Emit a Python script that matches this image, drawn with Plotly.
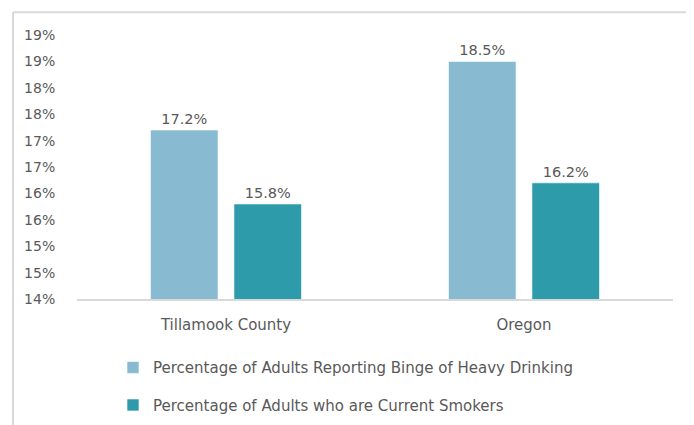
import plotly.graph_objects as go

categories = ["Tillamook County", "Oregon"]
binge_values = [17.2, 18.5]
smoker_values = [15.8, 16.2]
series_names = [
    "Percentage of Adults Reporting Binge of Heavy Drinking",
    "Percentage of Adults who are Current Smokers",
]
tick_values = [14, 14.5, 15, 15.5, 16, 16.5, 17, 17.5, 18, 18.5, 19]
tick_labels = ["14%", "15%", "15%", "16%", "16%", "17%", "17%", "18%", "18%", "19%", "19%"]

FONT = "DejaVu Sans"
TEXT = "#595959"
colors = ["#88BBD2", "#2E9BAB"]

# page body adds an 8px offset; plot area in page px: x 77..673, y 35..303
OFF = 8
L, R, T, B = 77 - OFF, 673 - OFF, 35 - OFF, 303 - OFF
W, H = 694, 425
PW, PH = R - L, B - T

fig = go.Figure()
for name, vals, col, grp in [
    (series_names[0], binge_values, colors[0], "a"),
    (series_names[1], smoker_values, colors[1], "b"),
]:
    fig.add_trace(go.Bar(
        x=categories, y=vals, name=name,
        marker=dict(color=col, line=dict(color="rgba(255,255,255,0.6)", width=1)),
        text=[f"{v:.1f}%" for v in vals], textposition="outside",
        textfont=dict(family=FONT, size=14.5, color=TEXT),
        cliponaxis=False, legendgroup=grp,
    ))

fx = lambda px: (px - OFF - L) / PW
fy = lambda py: (B - (py - OFF)) / PH

fig.update_layout(
    width=W, height=H,
    margin=dict(l=L, r=W - R, t=T, b=H - B),
    paper_bgcolor="white", plot_bgcolor="white",
    barmode="group", bargap=0.44, bargroupgap=0.19,
    font=dict(family=FONT, size=14, color=TEXT),
    showlegend=True,
    legend=dict(
        orientation="v", x=fx(113), xanchor="left", y=fy(356), yanchor="top",
        font=dict(family=FONT, size=15, color=TEXT),
        itemwidth=30, tracegroupgap=15, bgcolor="rgba(0,0,0,0)",
    ),
    shapes=[
        dict(type="line", xref="paper", yref="paper",
             x0=fx(13), x1=fx(720), y0=fy(12), y1=fy(12),
             line=dict(color="#D9D9D9", width=2)),
        dict(type="line", xref="paper", yref="paper",
             x0=fx(13), x1=fx(13), y0=fy(12), y1=fy(450),
             line=dict(color="#D9D9D9", width=2)),
    ],
)
fig.update_xaxes(
    showline=True, linecolor="#D9D9D9", linewidth=1.5, showgrid=False,
    ticks="outside", ticklen=11, tickcolor="rgba(0,0,0,0)",
    tickfont=dict(family=FONT, size=15, color=TEXT), automargin=False,
)
fig.update_yaxes(
    range=[14, 19], tickvals=tick_values, ticktext=tick_labels,
    showgrid=False, showline=False, zeroline=False,
    ticks="outside", ticklen=18, tickcolor="rgba(0,0,0,0)",
    tickfont=dict(family=FONT, size=14, color=TEXT), automargin=False,
)
fig.write_html("out.html")
